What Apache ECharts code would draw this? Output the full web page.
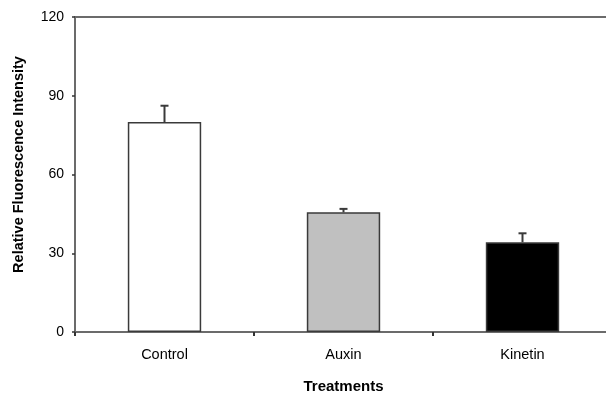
<!DOCTYPE html>
<html>
<head>
<meta charset="utf-8">
<script src="https://cdn.jsdelivr.net/npm/echarts@6/dist/echarts.min.js"></script>
<style>
  html, body { margin: 0; padding: 0; background: #fff; }
  #chart { width: 606px; height: 394px; }
</style>
</head>
<body>
<div id="chart"></div>
<script>
// data
const categories = ['Control', 'Auxin', 'Kinetin'];
const means = [80, 45.6, 34.2];
const errors = [6.2, 1.3, 3.4];
const barColors = ['#ffffff', '#c0c0c0', '#000000'];
const yTicks = [0, 30, 60, 90, 120];

const axisColor = '#6b6b6b';
const font = 'Liberation Sans, Arial, sans-serif';

let chart = echarts.init(document.getElementById('chart'));

let option = {
  animation: false,
  backgroundColor: '#fff',
  grid: { left: 75, top: 17, height: 315, width: 537, outerBoundsMode: 'none' },
  xAxis: [
    {
      type: 'category',
      data: categories,
      name: 'Treatments',
      nameLocation: 'middle',
      nameGap: 47,
      nameTextStyle: { fontFamily: font, fontSize: 15, fontWeight: 'bold', color: '#000' },
      axisLine: { lineStyle: { color: axisColor, width: 2 } },
      axisTick: { show: true, length: 4, inside: false, lineStyle: { color: '#333', width: 2 } },
      axisLabel: { fontFamily: font, fontSize: 14.5, color: '#000', margin: 15 }
    },
    {
      type: 'category',
      data: categories,
      position: 'top',
      axisLine: { lineStyle: { color: axisColor, width: 2 } },
      axisTick: { show: false },
      axisLabel: { show: false }
    }
  ],
  yAxis: {
    type: 'value',
    min: 0,
    max: 120,
    interval: 30,
    name: 'Relative Fluorescence Intensity',
    nameLocation: 'middle',
    nameGap: 49,
    nameTextStyle: { fontFamily: font, fontSize: 14.5, fontWeight: 'bold', color: '#000',
      padding: [0, 0, 0, 20] },
    axisLine: { show: true, lineStyle: { color: axisColor, width: 2 } },
    axisTick: { show: true, length: 3, lineStyle: { color: '#333', width: 1.5 } },
    axisLabel: { fontFamily: font, fontSize: 14, color: '#000', margin: 11,
      formatter: v => yTicks.includes(v) ? String(v) : '' },
    splitLine: { show: false }
  },
  series: [
    {
      type: 'bar',
      barWidth: '41%',
      data: means.map((v, i) => ({
        value: v,
        itemStyle: { color: barColors[i], borderColor: '#3a3a3a', borderWidth: 1.5 }
      }))
    },
    {
      type: 'custom',
      data: means.map((v, i) => [i, v, v + errors[i]]),
      renderItem: function (params, api) {
        let base = api.coord([api.value(0), api.value(1)]);
        let top = api.coord([api.value(0), api.value(2)]);
        let half = 4;
        return {
          type: 'group',
          children: [
            { type: 'line', shape: { x1: base[0], y1: base[1], x2: top[0], y2: top[1] },
              style: { stroke: '#3a3a3a', lineWidth: 2 } },
            { type: 'line', shape: { x1: top[0] - half, y1: top[1], x2: top[0] + half, y2: top[1] },
              style: { stroke: '#3a3a3a', lineWidth: 2 } }
          ]
        };
      },
      z: 3
    }
  ]
};

option && chart.setOption(option);
</script>
</body>
</html>
